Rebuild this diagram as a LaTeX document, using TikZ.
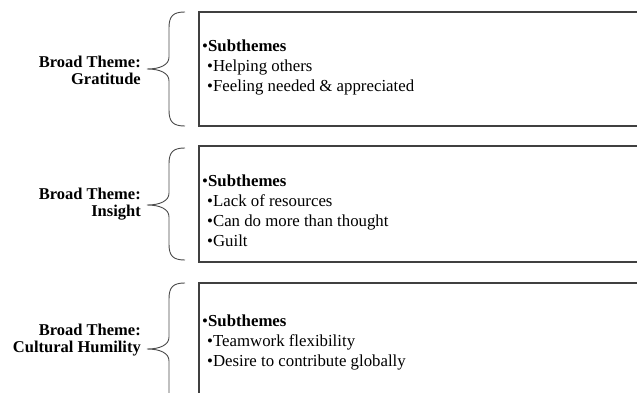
\documentclass[tikz,border=0pt]{standalone}
\usepackage{fontspec}
\setmainfont{Liberation Serif}
\begin{document}
\begin{tikzpicture}[x=1pt,y=-1pt,
  themebox/.style={draw=black!75,line width=1.3pt},
  bracepath/.style={draw=black!70,line width=0.9pt},
  label/.style={anchor=east,align=right,inner sep=0pt,font=\bfseries\fontsize{16.5}{17}\selectfont},
  items/.style={anchor=north west,align=left,inner sep=0pt,font=\fontsize{16.8}{20}\selectfont}]
\useasboundingbox (0,0) rectangle (637,393);
% boxes
\draw[themebox] (199,12) rectangle (660,126);
\draw[themebox] (199,146) rectangle (660,262);
\draw[themebox] (199,283) rectangle (660,420);
% braces
\foreach \t/\b/\m in {12/126/69, 148/260/205, 283/415/349}{
  \draw[bracepath] (185,\t) .. controls (173,\t) and (169,\t+4) .. (169,\t+16)
    -- (169,\m-12) .. controls (169,\m-4) and (160,\m) .. (147,\m)
    .. controls (160,\m) and (169,\m+4) .. (169,\m+12)
    -- (169,\b-16) .. controls (169,\b-4) and (173,\b) .. (185,\b);
}
% labels
\node[label] (l1) at (141,70.5) {Broad Theme:\\Gratitude};
\node[label] (l2) at (141,204) {Broad Theme:\\Insight};
\node[label] (l3) at (141,340.5) {Broad Theme:\\Cultural Humility};
% items
\node[items] (t1) at (202,40) {•\textbf{Subthemes}\\\hspace{5pt}•Helping others\\\hspace{5pt}•Feeling needed \& appreciated};
\node[items] (t2) at (202,175) {•\textbf{Subthemes}\\\hspace{5pt}•Lack of resources\\\hspace{5pt}•Can do more than thought\\\hspace{5pt}•Guilt};
\node[items] (t3) at (202,315) {•\textbf{Subthemes}\\\hspace{5pt}•Teamwork flexibility\\\hspace{5pt}•Desire to contribute globally};
\end{tikzpicture}
\end{document}
